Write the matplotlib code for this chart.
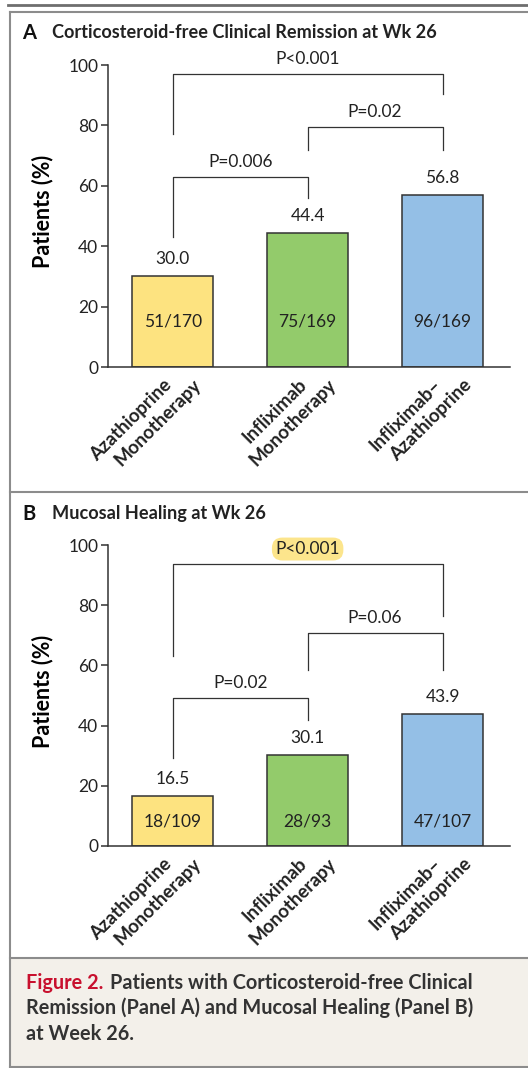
import matplotlib.pyplot as plt
from matplotlib.lines import Line2D
from matplotlib.patches import Rectangle

plt.rcParams['font.family'] = ['Lato', 'DejaVu Sans']

groups = [("Azathioprine", "Monotherapy"), ("Infliximab", "Monotherapy"), ("Infliximab\u2013", "Azathioprine")]
bar_colors = ["#fde380", "#93cb6b", "#94bfe6"]

remission_pct = [30.0, 44.4, 56.8]
remission_counts = ["51/170", "75/169", "96/169"]
# (left bar, right bar, bracket top, left leg end, right leg end, label)
remission_pvals = [(0, 2, 97.0, 77.0, 90.5, "P<0.001"),
                   (1, 2, 79.5, 72.0, 72.0, "P=0.02"),
                   (0, 1, 63.0, 43.0, 56.0, "P=0.006")]

healing_pct = [16.5, 30.1, 43.9]
healing_counts = ["18/109", "28/93", "47/107"]
healing_pvals = [(0, 2, 93.7, 63.0, 76.5, "P<0.001"),
                 (1, 2, 70.8, 58.5, 58.5, "P=0.06"),
                 (0, 1, 49.2, 29.2, 42.0, "P=0.02")]

W, H = 528, 1068
dark = "#333333"
frame = "#8c8c8c"
fs = 12.5


def fx(x):
    return x / W


def fy(y):
    return 1 - y / H


def panel(ax, pct, counts, pvals, highlight):
    x = range(len(pct))
    ax.bar(x, pct, width=0.6, color=bar_colors, edgecolor=dark, linewidth=1.1, zorder=2)
    for i, v in enumerate(pct):
        ax.text(i, v + 3, "%.1f" % v, ha='center', va='bottom', fontsize=fs, color="#222222")
        ax.text(i, min(pct) / 2, counts[i], ha='center', va='center', fontsize=fs, color="#222222")
    for k, (a, b, top, la, lb, lab) in enumerate(pvals):
        ax.plot([a, a, b, b], [la, top, top, lb], color=dark, lw=0.9, clip_on=False)
        kw = {}
        if highlight and k == 0:
            kw = dict(bbox=dict(boxstyle="round,pad=0.2,rounding_size=0.6", fc="#fce58c", ec="none"))
        ax.text((a + b) / 2, top + 2.3, lab, ha='center', va='bottom', fontsize=fs, color="#222222", **kw)
    ax.set_xlim(-0.48, 2.50)
    ax.set_ylim(0, 100)
    ax.set_yticks([0, 20, 40, 60, 80, 100])
    ax.tick_params(axis='y', length=5, width=1.1, color=dark, labelsize=fs, labelcolor="#222222", pad=2)
    ax.set_xticks([])
    # group names: two rotated lines, staggered like the original
    for i, (l1, l2) in enumerate(groups):
        for dx, line in [(-10, l1), (20, l2)]:
            ax.annotate(line, xy=(i, 0), xycoords=('data', 'axes fraction'),
                        xytext=(dx, -9), textcoords='offset pixels',
                        rotation=45, rotation_mode='anchor', ha='right', va='top',
                        fontsize=13.5, fontweight='bold', color="#222222")
    for s in ['top', 'right']:
        ax.spines[s].set_visible(False)
    for s in ['left', 'bottom']:
        ax.spines[s].set_color(dark)
        ax.spines[s].set_linewidth(1.1)
    ax.set_ylabel("Patients (%)", fontsize=15.5, fontweight='bold')
    ax.yaxis.set_label_coords(-0.137, 0.515)


fig = plt.figure(figsize=(W / 100, H / 100), dpi=100)

# caption background and frame lines
fig.add_artist(Rectangle((fx(10), fy(1067)), fx(530) - fx(10), fy(958) - fy(1067),
                         facecolor="#f3f0ea", edgecolor="none", transform=fig.transFigure))
fig.add_artist(Line2D([fx(8), fx(528)], [fy(5), fy(5)], color="#6e6e6e", lw=2))
fig.add_artist(Line2D([fx(10), fx(10)], [fy(12), fy(1067)], color=frame, lw=1.5))
for yy in [12, 492, 958, 1067]:
    fig.add_artist(Line2D([fx(10), fx(528)], [fy(yy), fy(yy)], color=frame, lw=1.5))

axA = fig.add_axes([fx(108), fy(367), fx(510) - fx(108), fy(65) - fy(367)])
panel(axA, remission_pct, remission_counts, remission_pvals, False)
axB = fig.add_axes([fx(108), fy(846), fx(510) - fx(108), fy(545) - fy(846)])
panel(axB, healing_pct, healing_counts, healing_pvals, True)

fig.text(fx(22), fy(33), "A", fontsize=14.5, fontweight='bold', va='center', color="#111111")
fig.text(fx(52), fy(33), "Corticosteroid-free Clinical Remission at Wk 26", fontsize=13.1,
         fontweight='bold', va='center', color="#222222")
fig.text(fx(22), fy(514), "B", fontsize=14.5, fontweight='bold', va='center', color="#111111")
fig.text(fx(52), fy(514), "Mucosal Healing at Wk 26", fontsize=13.1,
         fontweight='bold', va='center', color="#222222")

cap_kw = dict(fontsize=14.3, fontweight='bold', va='center', color="#333333")
fig.text(fx(26), fy(983), "Figure 2.", color="#c8102e", fontsize=14.3, fontweight='bold', va='center')
fig.text(fx(110), fy(983), "Patients with Corticosteroid-free Clinical", **cap_kw)
fig.text(fx(26), fy(1008), "Remission (Panel A) and Mucosal Healing (Panel B)", **cap_kw)
fig.text(fx(26), fy(1034), "at Week 26.", **cap_kw)

fig.savefig("out.png", dpi=100)
